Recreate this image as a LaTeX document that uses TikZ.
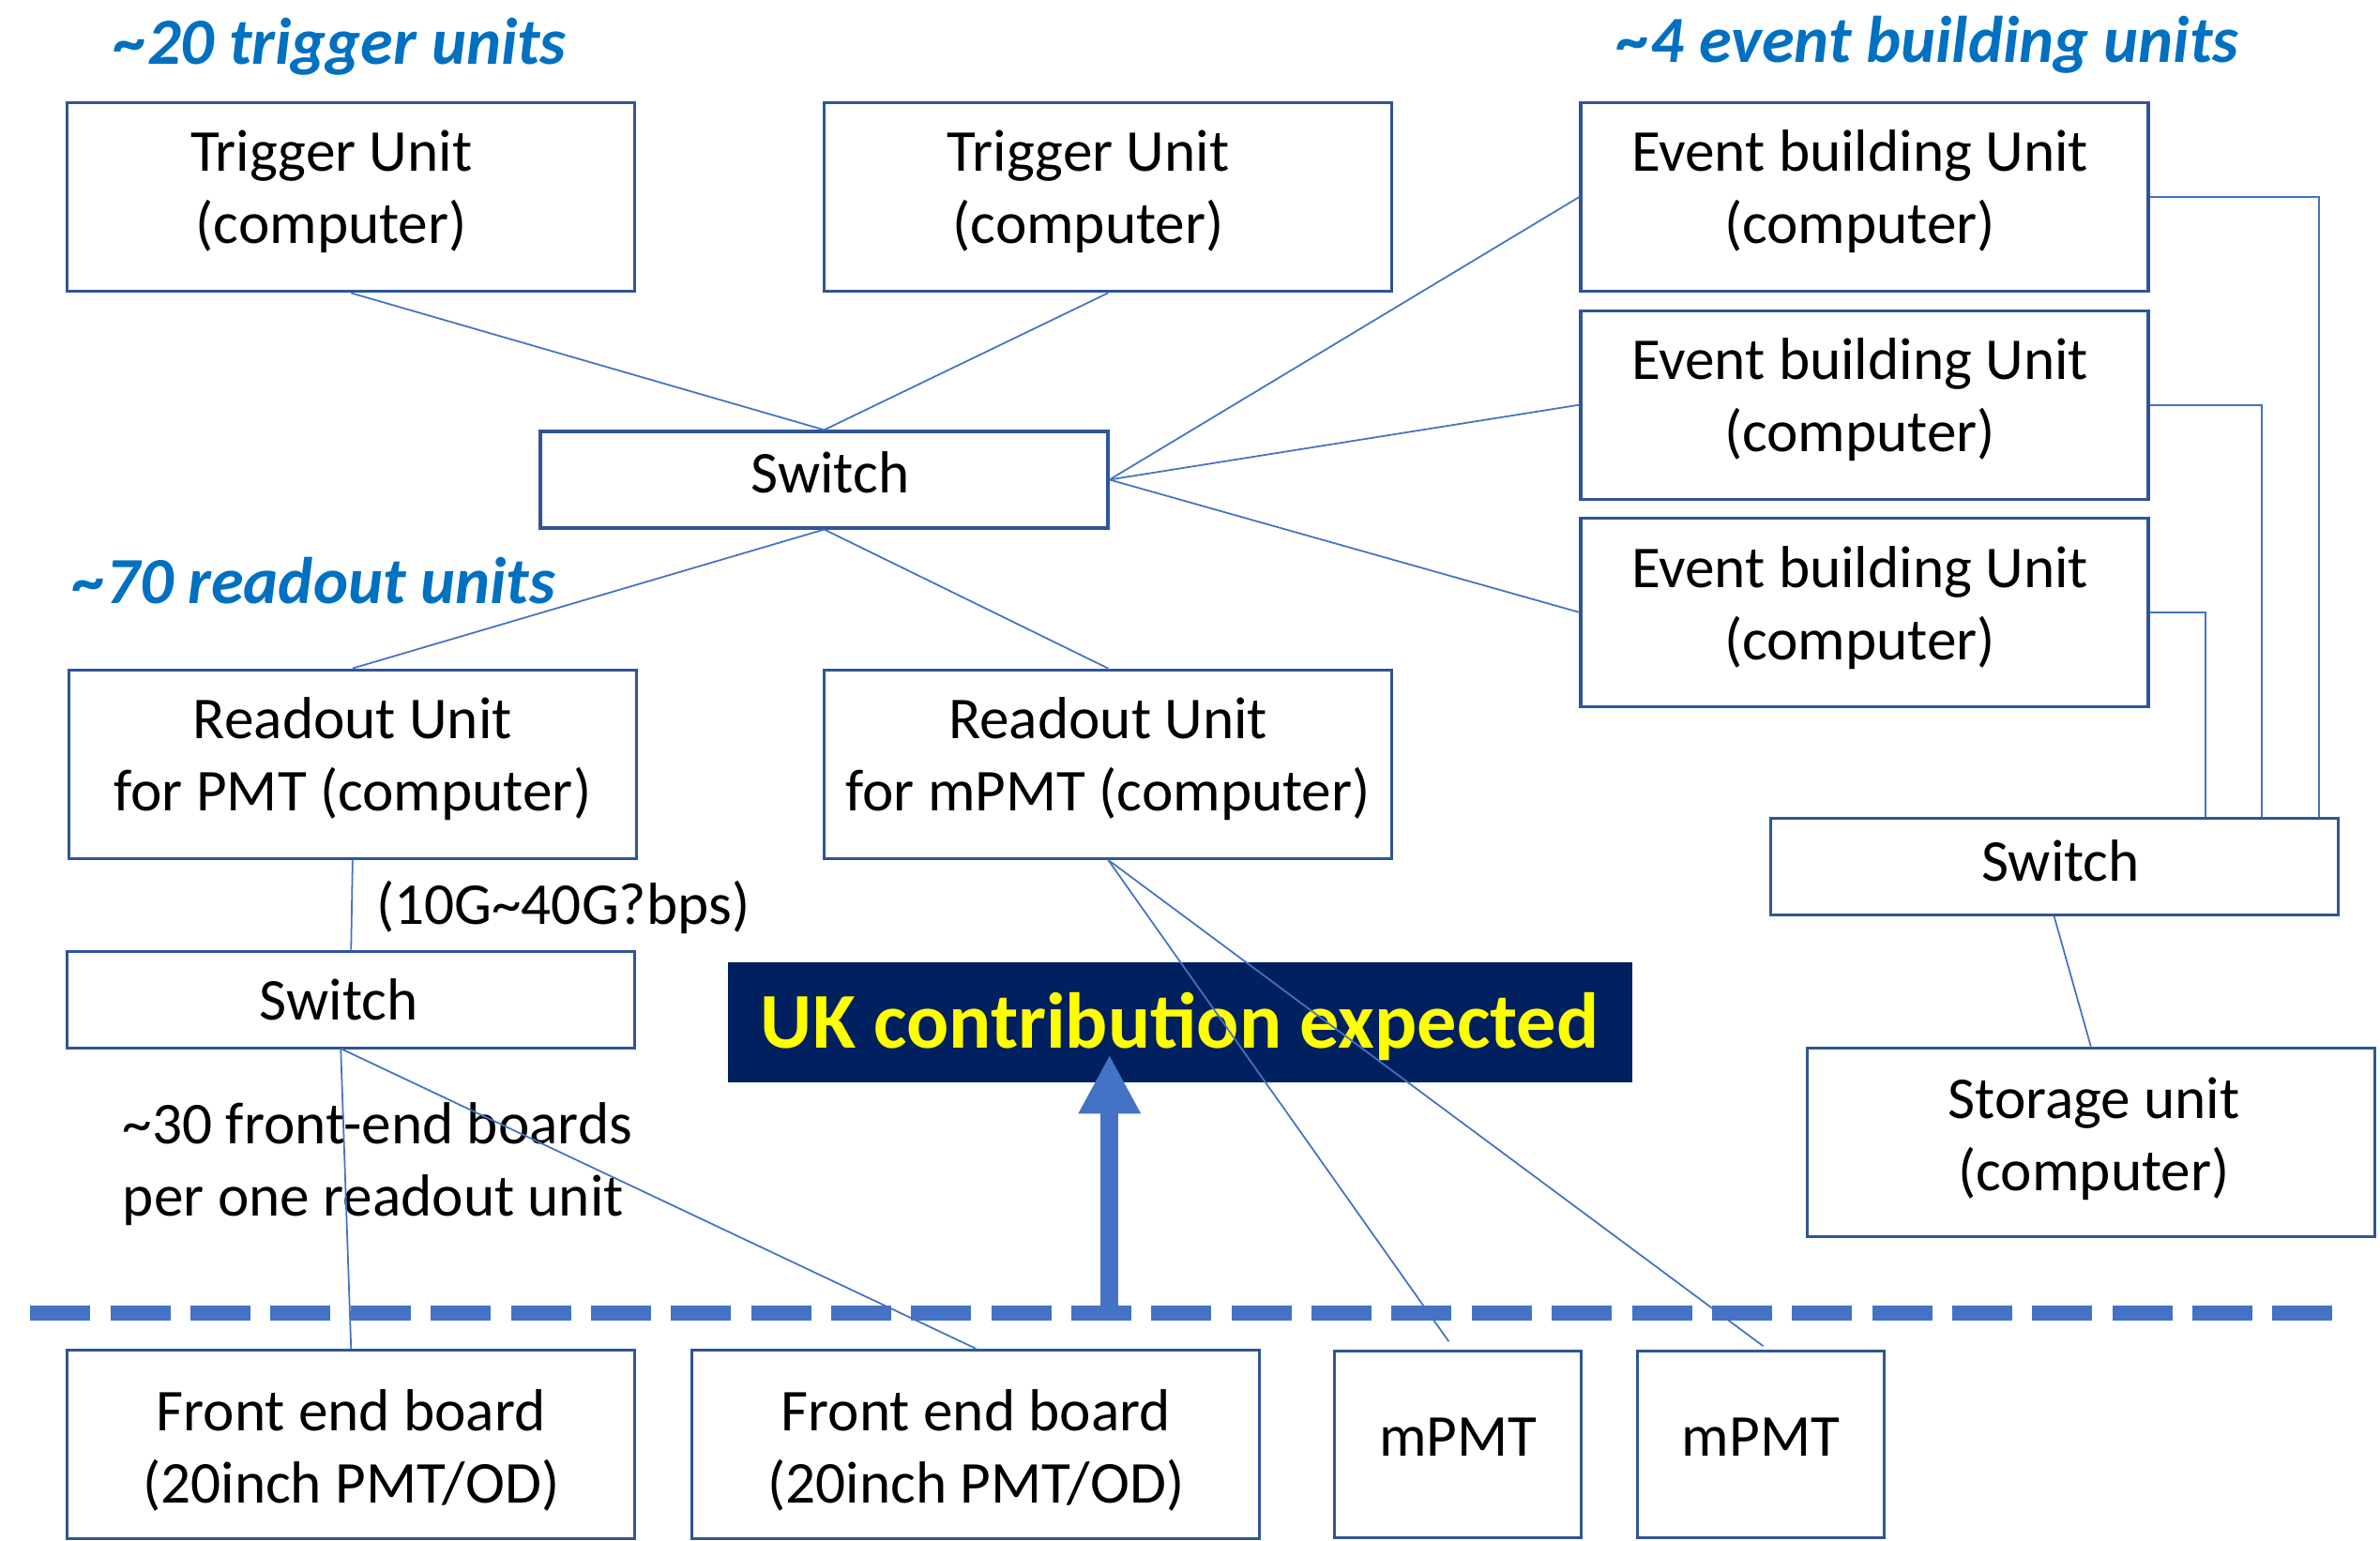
\documentclass[tikz,border=0pt]{standalone}
\usepackage{fontspec}
\setmainfont{Carlito}
\usetikzlibrary{arrows.meta}
\definecolor{boxc}{HTML}{2F5597}
\definecolor{linec}{HTML}{4472C4}
\definecolor{titc}{HTML}{0070C0}
\definecolor{navyc}{HTML}{002060}
\definecolor{ukyel}{HTML}{FFFF00}
\begin{document}
\begin{tikzpicture}[x=0.1618mm,y=-0.1618mm,
 unitbox/.style={draw=boxc, line width=0.9pt, fill=white, inner sep=0pt,
   minimum width=60.5mm, minimum height=20.1mm},
 swbox/.style={unitbox, minimum height=10.3mm},
 smallbox/.style={unitbox, minimum width=26.3mm, minimum height=19.9mm},
 boxtxt/.style={align=center, inner sep=0pt, font=\fontsize{18}{22}\selectfont},
 connline/.style={draw=linec, line width=0.5pt},
 grouptitle/.style={text=titc, font=\fontsize{20}{24}\selectfont\bfseries\itshape, inner sep=0pt, anchor=base west},
 plainlbl/.style={font=\fontsize{18}{22}\selectfont, inner sep=0pt, anchor=base west}]
\useasboundingbox (0,0) rectangle (1568,1015);

% titles
\node[grouptitle] (t1) at (75,42.5) {\textasciitilde 20 trigger units};
\node[grouptitle] (t2) at (1065.6,41) {\textasciitilde 4 event building units};
\node[grouptitle] (t3) at (48,397.6) {\textasciitilde 70 readout units};

% boxes
\node[unitbox, label={[boxtxt,xshift=-2.1mm,yshift=0.57mm]center:{Trigger Unit\\(computer)}}] (tu1) at (231.3,130) {};
\node[unitbox, label={[boxtxt,xshift=-2.1mm,yshift=0.57mm]center:{Trigger Unit\\(computer)}}] (tu2) at (730,130) {};
\node[unitbox, label={[boxtxt,xshift=-0.49mm,yshift=0.6mm]center:{Event building Unit\\(computer)}}] (eb1) at (1228.4,129.8) {};
\node[unitbox, label={[boxtxt,xshift=-0.49mm,yshift=0.57mm]center:{Event building Unit\\(computer)}}] (eb2) at (1228.4,266.8) {};
\node[unitbox, label={[boxtxt,xshift=-0.49mm,yshift=0.5mm]center:{Event building Unit\\(computer)}}] (eb3) at (1228.4,403.5) {};
\node[swbox, label={[boxtxt,xshift=0.65mm,yshift=0.8mm]center:Switch}] (sw1) at (543,316.1) {};
\node[unitbox, label={[boxtxt,yshift=0.57mm]center:{Readout Unit\\for PMT (computer)}}] (ru1) at (232.3,503.5) {};
\node[unitbox, label={[boxtxt,yshift=0.57mm]center:{Readout Unit\\for mPMT (computer)}}] (ru2) at (730,503.5) {};
\node[swbox, label={[boxtxt,xshift=-1.3mm]center:Switch}] (sw2) at (231.3,658.7) {};
\node[swbox, label={[boxtxt,xshift=0.7mm,yshift=0.65mm]center:Switch}] (sw3) at (1353.3,571) {};
\node[unitbox, label={[boxtxt,xshift=0.32mm,yshift=0.32mm]center:{Storage unit\\(computer)}}] (st) at (1377.5,752.7) {};
\node[unitbox, label={[boxtxt,yshift=-0.65mm]center:{Front end board\\(20inch PMT/OD)}}] (feb1) at (231.3,951.8) {};
\node[unitbox, label={[boxtxt,yshift=-0.65mm]center:{Front end board\\(20inch PMT/OD)}}] (feb2) at (643,951.8) {};
\node[smallbox, label={[boxtxt,yshift=0.8mm]center:mPMT}] (mp1) at (960.5,951.8) {};
\node[smallbox, label={[boxtxt,yshift=0.8mm]center:mPMT}] (mp2) at (1160,951.8) {};

% labels
\node[plainlbl] (bw) at (247.5,609) {(10G\textasciitilde 40G?bps)};
\node[plainlbl] (fe1) at (80.5,754) {\textasciitilde 30 front-end boards};
\node[plainlbl] (fe2) at (80.5,801.5) {per one readout unit};

% UK box
\node[fill=navyc, inner sep=0pt, minimum width=96.4mm, minimum height=12.8mm,
  label={[text=ukyel, inner sep=0pt, yshift=-0.45mm, font=\fontsize{24}{28}\selectfont\bfseries]center:UK contribution expected}] (uk) at (777.3,673.5) {};

% connectors
\draw[connline] (tu1.south) -- (sw1.north);
\draw[connline] (tu2.south) -- (sw1.north);
\draw[connline] (sw1.east) -- (eb1.west);
\draw[connline] (sw1.east) -- (eb2.west);
\draw[connline] (sw1.east) -- (eb3.west);
\draw[connline] (sw1.south) -- (ru1.north);
\draw[connline] (sw1.south) -- (ru2.north);
\draw[connline] (ru1.south) -- (sw2.north);
\coordinate (s2b) at (224.5,691);
\draw[connline] (s2b) -- (feb1.north);
\draw[connline] (s2b) -- (feb2.north);
\coordinate (m1) at (954.5,884);
\coordinate (m2) at (1161.6,887);
\draw[connline] (ru2.south) -- (m1);
\draw[connline] (ru2.south) -- (m2);
\coordinate (v1) at (1527.8,0);
\coordinate (v2) at (1490,0);
\coordinate (v3) at (1453,0);
\draw[connline] (eb1.east) -| (v1 |- sw3.north);
\draw[connline] (eb2.east) -| (v2 |- sw3.north);
\draw[connline] (eb3.east) -| (v3 |- sw3.north);
\draw[connline] (sw3.south) -- (st.north);

% dashed separator
\coordinate (dl) at (20,865.3);
\coordinate (dr) at (1536.5,865.3);
\draw[linec, line width=1.6mm, dash pattern=on 6.4mm off 2.136mm] (dl) -- (dr);

% arrow
\coordinate (ab) at (731,865.3);
\coordinate (at) at (731,695);
\draw[linec, line width=1.9mm, -{Triangle[length=6.3mm,width=6.2mm]}] (ab) -- (at);
\end{tikzpicture}
\end{document}
